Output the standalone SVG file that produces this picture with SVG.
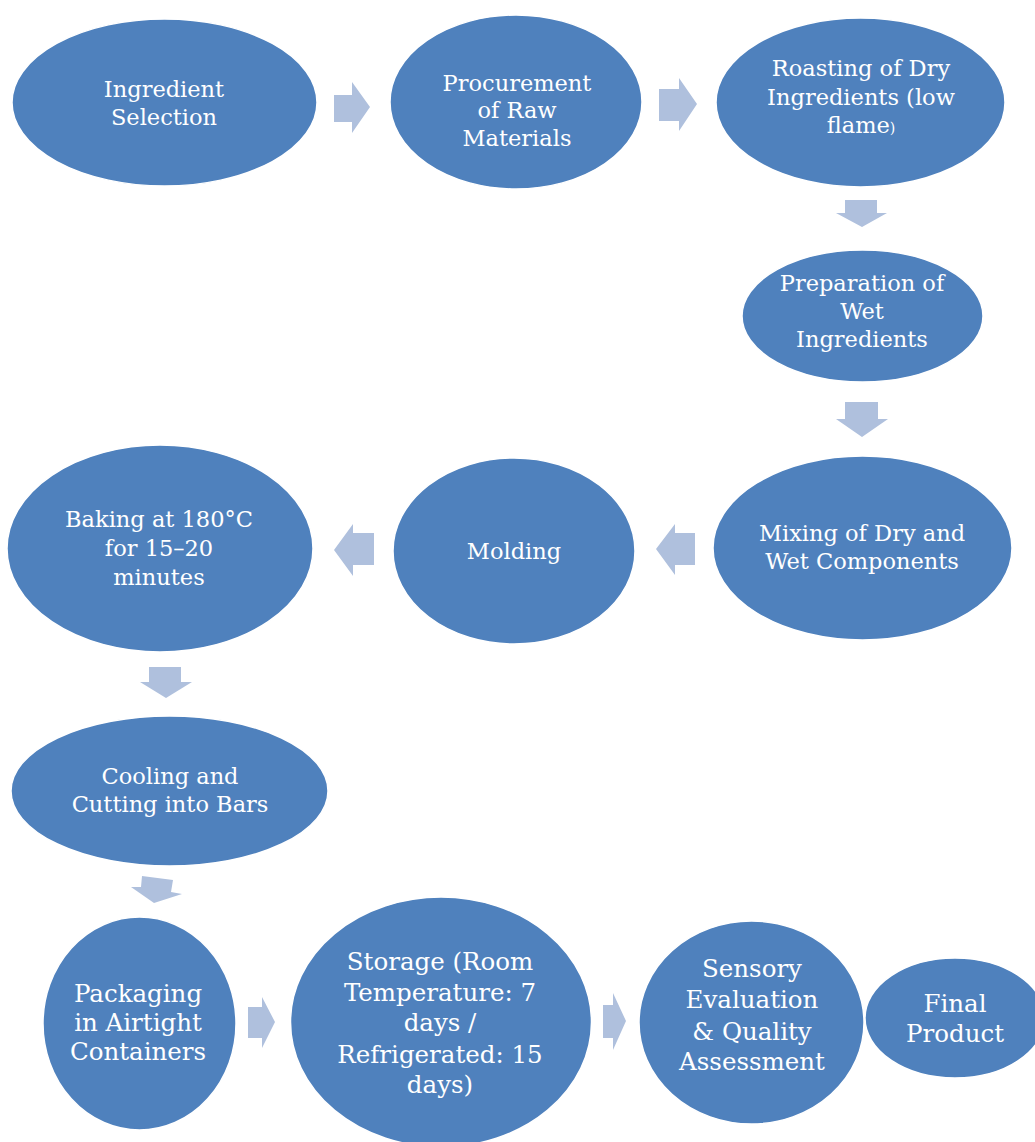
<svg xmlns="http://www.w3.org/2000/svg" width="1035" height="1142" viewBox="0 0 1035 1142">
<style>
.n{fill:#4F81BD;stroke:#FFFFFF;stroke-width:1.5}
.t{fill:#FFFFFF;font-family:"DejaVu Serif","Liberation Serif",serif;font-size:22.5px;text-anchor:middle}
.l{font-size:24.5px}
.a{fill:#AFC0DD}
</style>
<rect width="1035" height="1142" fill="#FFFFFF"/>
<g id="connectors">
<polygon class="a" points="334,95 352,95 352,82 370,107 352,133 352,122 334,122"/>
<polygon class="a" points="659,89 679,89 679,78 697,104 679,131 679,121 659,121"/>
<polygon class="a" points="845,200 877,200 877,213 887,213 862,227 836,213 845,213"/>
<polygon class="a" points="845,402 878,402 878,419 888,419 862,437 836,419 845,419"/>
<polygon class="a" points="695,533 675,533 675,524 656,549 675,575 675,565 695,565"/>
<polygon class="a" points="374,533 353,533 353,524 334,550 353,576 353,565 374,565"/>
<polygon class="a" points="149,667 181,667 181,682 192,682 166,698 140,682 149,682"/>
<polygon class="a" points="142,876 173,880 171,892 182,894 154,903 131,887 141,887"/>
<polygon class="a" points="248,1007 262,1007 262,997 275,1022 262,1048 262,1038 248,1038"/>
<polygon class="a" points="603,1005 613,1005 613,993 626,1021 613,1050 613,1038 603,1038"/>
</g>
<g id="n1"><ellipse class="n" cx="164.5" cy="102.5" rx="152.5" ry="83.5"/>
<text class="t"><tspan x="164" y="97">Ingredient</tspan><tspan x="164" y="125">Selection</tspan></text></g>
<g id="n2"><ellipse class="n" cx="516" cy="102" rx="126" ry="87"/>
<text class="t"><tspan x="517" y="91">Procurement</tspan><tspan x="517" y="118">of Raw</tspan><tspan x="517" y="146">Materials</tspan></text></g>
<g id="n3"><ellipse class="n" cx="860.5" cy="102.5" rx="144.5" ry="84.5"/>
<text class="t"><tspan x="861" y="76">Roasting of Dry</tspan><tspan x="861" y="105">Ingredients (low</tspan><tspan x="861" y="133">flame<tspan font-size="14px">)</tspan></tspan></text></g>
<g id="n4"><ellipse class="n" cx="862.5" cy="316" rx="120.5" ry="66"/>
<text class="t"><tspan x="862" y="291">Preparation of</tspan><tspan x="862" y="319">Wet</tspan><tspan x="862" y="347">Ingredients</tspan></text></g>
<g id="n5"><ellipse class="n" cx="862.5" cy="548" rx="149.5" ry="92"/>
<text class="t"><tspan x="862" y="541">Mixing of Dry and</tspan><tspan x="862" y="569">Wet Components</tspan></text></g>
<g id="n6"><ellipse class="n" cx="514" cy="551" rx="121" ry="93"/>
<text class="t"><tspan x="514" y="559">Molding</tspan></text></g>
<g id="n7"><ellipse class="n" cx="160" cy="548.5" rx="153" ry="103.5"/>
<text class="t"><tspan x="159" y="527">Baking at 180°C</tspan><tspan x="159" y="556">for 15–20</tspan><tspan x="159" y="585">minutes</tspan></text></g>
<g id="n8"><ellipse class="n" cx="169.5" cy="791" rx="158.5" ry="75"/>
<text class="t"><tspan x="170" y="784">Cooling and</tspan><tspan x="170" y="812">Cutting into Bars</tspan></text></g>
<g id="n9"><ellipse class="n" cx="139.5" cy="1023.5" rx="96.5" ry="106.5"/>
<text class="t l"><tspan x="138" y="1002">Packaging</tspan><tspan x="138" y="1031">in Airtight</tspan><tspan x="138" y="1060">Containers</tspan></text></g>
<g id="n10"><ellipse class="n" cx="441" cy="1022" rx="150.5" ry="125"/>
<text class="t l"><tspan x="440" y="970">Storage (Room</tspan><tspan x="440" y="1001">Temperature: 7</tspan><tspan x="440" y="1031">days /</tspan><tspan x="440" y="1063">Refrigerated: 15</tspan><tspan x="440" y="1093">days)</tspan></text></g>
<g id="n11"><ellipse class="n" cx="751.5" cy="1022.5" rx="112.5" ry="101.5"/>
<text class="t l"><tspan x="752" y="977">Sensory</tspan><tspan x="752" y="1008">Evaluation</tspan><tspan x="752" y="1040">&amp; Quality</tspan><tspan x="752" y="1070">Assessment</tspan></text></g>
<g id="n12"><ellipse class="n" cx="955" cy="1018" rx="90" ry="60"/>
<text class="t l"><tspan x="955" y="1012">Final</tspan><tspan x="955" y="1042">Product</tspan></text></g>
</svg>
